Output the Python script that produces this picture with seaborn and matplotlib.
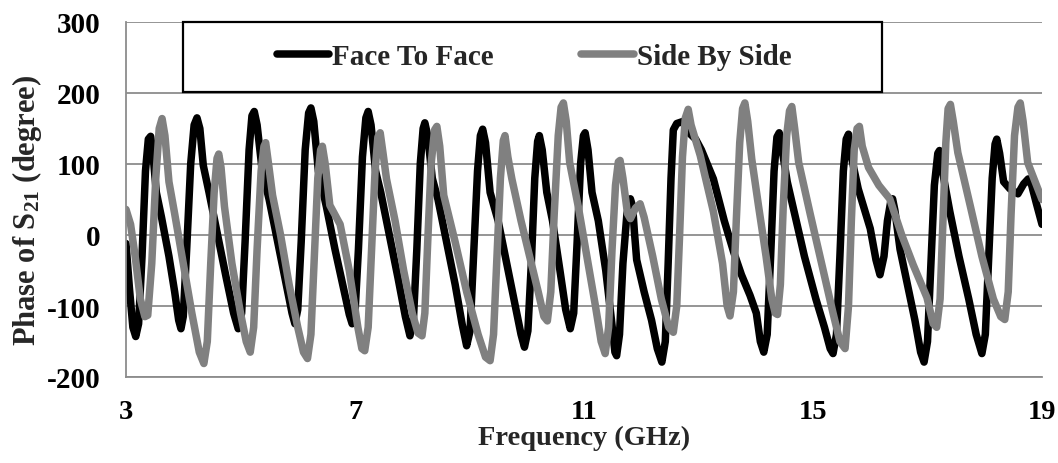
import matplotlib
matplotlib.use("Agg")
import matplotlib.pyplot as plt
from matplotlib.patches import Rectangle
import numpy as np
import pandas as pd
import seaborn as sns

# ---------------- data ----------------
series_names = ["Face To Face", "Side By Side"]

ff_freq = [3.00, 3.06, 3.12, 3.17, 3.22, 3.28, 3.34, 3.39, 3.43, 3.47, 3.53, 3.62, 3.75, 3.85, 3.92, 3.96,
           4.00, 4.06, 4.13, 4.19, 4.24, 4.29, 4.35, 4.45, 4.60, 4.75, 4.88, 4.96,
           5.02, 5.08, 5.15, 5.20, 5.24, 5.29, 5.38, 5.50, 5.65, 5.80, 5.90, 5.95,
           6.00, 6.06, 6.13, 6.19, 6.23, 6.28, 6.36, 6.50, 6.65, 6.80, 6.90, 6.95,
           7.00, 7.06, 7.13, 7.19, 7.23, 7.28, 7.36, 7.45, 7.60, 7.75, 7.88, 7.96,
           8.02, 8.08, 8.14, 8.19, 8.22, 8.27, 8.35, 8.45, 8.60, 8.75, 8.87, 8.95,
           9.01, 9.07, 9.14, 9.19, 9.23, 9.28, 9.36, 9.50, 9.65, 9.80, 9.90, 9.96,
           10.02, 10.08, 10.14, 10.19, 10.22, 10.27, 10.35, 10.45, 10.58, 10.68, 10.76,
           10.82, 10.88, 10.94, 10.99, 11.02, 11.07, 11.14, 11.25, 11.38, 11.48, 11.54, 11.57,
           11.62, 11.68, 11.75, 11.81, 11.85, 11.88, 11.92, 12.05, 12.18, 12.28, 12.36,
           12.42, 12.47, 12.52, 12.56, 12.62, 12.73, 12.82, 12.95, 13.05, 13.26, 13.45, 13.61,
           13.75, 13.90, 14.01, 14.08, 14.14,
           14.20, 14.26, 14.32, 14.37, 14.41, 14.46, 14.55, 14.65, 14.85, 15.05, 15.20, 15.30, 15.35,
           15.41, 15.47, 15.53, 15.58, 15.62, 15.67, 15.79, 16.00, 16.10, 16.17,
           16.24, 16.30, 16.36, 16.39, 16.43, 16.52, 16.65, 16.78, 16.88, 16.94,
           17.00, 17.06, 17.12, 17.18, 17.21, 17.26, 17.39, 17.55, 17.72, 17.85, 17.95,
           18.01, 18.07, 18.13, 18.18, 18.21, 18.26, 18.33, 18.44, 18.58, 18.68, 18.76, 18.82, 18.90, 19.00]
ff_phase = [-12, -75, -130, -143, -125, -30, 90, 135, 139, 115, 60, 25, -30, -80, -120, -132,
            -115, -20, 100, 155, 165, 150, 98, 60, 0, -60, -110, -132,
            -110, -10, 120, 168, 174, 155, 90, 50, -10, -70, -110, -125,
            -105, -10, 120, 172, 179, 160, 90, 40, -20, -75, -112, -125,
            -110, -20, 110, 165, 174, 155, 90, 60, 0, -60, -115, -142,
            -120, -20, 100, 150, 158, 140, 80, 50, -10, -70, -125, -156,
            -135, -30, 90, 140, 149, 130, 60, 20, -40, -100, -140, -158,
            -135, -40, 80, 132, 140, 120, 60, 20, -50, -105, -132,
            -110, -10, 100, 140, 144, 120, 60, 20, -50, -120, -165, -170,
            -140, -40, 30, 51, 40, 5, -35, -80, -120, -160, -179,
            -150, -40, 80, 148, 157, 160, 145, 135, 120, 79, 20, -23,
            -56, -85, -110, -150, -165,
            -140, -30, 90, 138, 144, 120, 75, 40, -30, -90, -130, -160, -167,
            -140, -30, 90, 135, 142, 110, 65, 9, -35, -56,
            -30, 20, 48, 51, 35, -20, -70, -120, -165, -179,
            -150, -40, 70, 115, 119, 90, 33, -30, -90, -140, -167,
            -140, -30, 80, 128, 135, 115, 75, 65, 58, 72, 79, 70, 45, 15]

sbs_freq = [3.00, 3.08, 3.16, 3.25, 3.33, 3.38, 3.45, 3.52, 3.58, 3.63, 3.68, 3.75, 3.85, 4.00, 4.15, 4.28, 4.36,
            4.42, 4.48, 4.54, 4.59, 4.62, 4.66, 4.72, 4.85, 5.00, 5.10, 5.17,
            5.23, 5.29, 5.36, 5.41, 5.44, 5.49, 5.56, 5.70, 5.85, 6.00, 6.10, 6.17,
            6.23, 6.29, 6.35, 6.40, 6.43, 6.48, 6.56, 6.74, 6.90, 7.05, 7.12, 7.17,
            7.23, 7.29, 7.35, 7.40, 7.44, 7.49, 7.55, 7.70, 7.85, 8.00, 8.10, 8.17,
            8.22, 8.27, 8.33, 8.39, 8.43, 8.48, 8.55, 8.75, 8.95, 9.15, 9.28, 9.36,
            9.42, 9.48, 9.54, 9.59, 9.62, 9.67, 9.74, 9.90, 10.05, 10.20, 10.30, 10.36,
            10.42, 10.48, 10.55, 10.60, 10.64, 10.69, 10.75, 10.90, 11.05, 11.20, 11.30, 11.37,
            11.43, 11.49, 11.55, 11.60, 11.63, 11.68, 11.76, 11.81, 11.90, 11.98, 12.05, 12.20, 12.35, 12.48, 12.56,
            12.62, 12.67, 12.72, 12.77, 12.82, 12.87, 13.03, 13.26, 13.42, 13.50, 13.55,
            13.61, 13.66, 13.72, 13.77, 13.81, 13.86, 13.93, 14.05, 14.18, 14.28, 14.34, 14.38,
            14.43, 14.48, 14.54, 14.59, 14.63, 14.68, 14.75, 14.95, 15.15, 15.35, 15.47, 15.56,
            15.62, 15.67, 15.72, 15.77, 15.81, 15.86, 15.97, 16.15, 16.34, 16.55, 16.75, 16.99, 17.10, 17.16,
            17.22, 17.27, 17.32, 17.36, 17.40, 17.45, 17.53, 17.75, 17.95, 18.15, 18.28, 18.35,
            18.41, 18.46, 18.52, 18.58, 18.62, 18.67, 18.75, 18.88, 19.00]
sbs_phase = [36, 15, -30, -90, -115, -113, -40, 80, 150, 164, 140, 75, 30, -40, -110, -165, -181,
             -150, -40, 60, 108, 114, 95, 40, -40, -110, -150, -165,
             -130, -20, 90, 125, 130, 100, 56, 0, -70, -130, -165, -174,
             -140, -30, 80, 120, 125, 100, 42, 15, -50, -130, -160, -163,
             -130, -20, 90, 138, 144, 115, 79, 20, -50, -110, -138, -142,
             -110, -10, 100, 148, 153, 125, 56, -10, -80, -140, -172, -177,
             -140, -30, 80, 133, 140, 110, 79, 20, -30, -80, -115, -121,
             -80, 30, 140, 180, 186, 160, 102, 40, -30, -100, -150, -167,
             -130, -20, 70, 103, 105, 80, 30, 23, 38, 44, 25, -30, -90, -130, -137,
             -100, 0, 110, 165, 177, 155, 112, 33, -40, -100, -114,
             -80, 20, 130, 178, 186, 160, 107, 40, -30, -90, -110, -112,
             -70, 40, 140, 175, 181, 150, 102, 30, -40, -110, -150, -160,
             -100, 20, 120, 150, 153, 125, 95, 70, 51, 0, -42, -88, -125, -130,
             -90, 20, 130, 178, 184, 160, 116, 40, -30, -90, -115, -119,
             -80, 30, 140, 180, 186, 160, 102, 75, 50]

x_ticks = [3, 7, 11, 15, 19]
y_ticks = [-200, -100, 0, 100, 200, 300]

# ---------------- styling ----------------
sns.set_theme(style="white")
plt.rcParams["font.family"] = ["Liberation Serif", "DejaVu Serif"]
plt.rcParams["font.weight"] = "bold"
plt.rcParams["mathtext.fontset"] = "custom"
plt.rcParams["mathtext.rm"] = "Liberation Serif:bold"
plt.rcParams["mathtext.bf"] = "Liberation Serif:bold"
plt.rcParams["mathtext.it"] = "Liberation Serif:bold"

GRAY = "#808080"
AXGRAY = "#8c8c8c"

df = pd.concat([
    pd.DataFrame({"Frequency": ff_freq, "Phase": ff_phase, "Series": series_names[0]}),
    pd.DataFrame({"Frequency": sbs_freq, "Phase": sbs_phase, "Series": series_names[1]}),
], ignore_index=True)

fig = plt.figure(figsize=(10.58, 4.64), dpi=100)
ax = fig.add_axes([126 / 1058, 1 - 378 / 464, 916 / 1058, 355 / 464])

sns.lineplot(data=df, x="Frequency", y="Phase", hue="Series", estimator=None,
             palette={series_names[0]: "black", series_names[1]: GRAY},
             linewidth=5.4, ax=ax, legend=True,
             solid_joinstyle="round", solid_capstyle="round")

ax.set_xlim(3, 19)
ax.set_ylim(-200, 300)
ax.set_xticks(x_ticks)
ax.set_yticks(y_ticks)
ax.set_xticklabels([str(t) for t in x_ticks])
ax.set_yticklabels([str(t) for t in y_ticks])

ax.yaxis.grid(True, color=AXGRAY, linewidth=1.3)
ax.xaxis.grid(False)
ax.set_axisbelow(True)
for s in ["top", "right"]:
    ax.spines[s].set_visible(False)
for s in ["left", "bottom"]:
    ax.spines[s].set_color(AXGRAY)
    ax.spines[s].set_linewidth(1.3)

ax.tick_params(axis="both", which="major", direction="out", length=6.5, width=1.3,
               color=AXGRAY, labelcolor="black", labelsize=21)
ax.tick_params(axis="x", pad=9, labelsize=20.5)
ax.tick_params(axis="y", pad=12)
for lab in ax.get_xticklabels() + ax.get_yticklabels():
    lab.set_fontweight("bold")

ax.set_xlabel("Frequency (GHz)", fontsize=20.5, fontweight="bold", labelpad=1)
ax.set_ylabel(r"Phase of S$_{\mathbf{21}}$ (degree)", fontsize=22, fontweight="bold")
ax.yaxis.set_label_coords(-0.09, 0.473)

# legend box
ax.add_patch(Rectangle((57 / 916, 1 - 70 / 355), 699 / 916, 70 / 355, transform=ax.transAxes,
                       facecolor="white", edgecolor="black", linewidth=1.6, zorder=5, clip_on=False))
handles, labels = ax.get_legend_handles_labels()
leg = ax.legend(handles, labels, loc="center", bbox_to_anchor=(408 / 916, 1 - 35 / 355),
                ncol=2, frameon=False, handlelength=1.8, handletextpad=0.1,
                columnspacing=3.0, prop={"weight": "bold", "size": 21})
leg.set_zorder(6)
for line in leg.get_lines():
    line.set_linewidth(5.4)
    line.set_solid_capstyle("round")

fig.savefig("out.png", dpi=100)
